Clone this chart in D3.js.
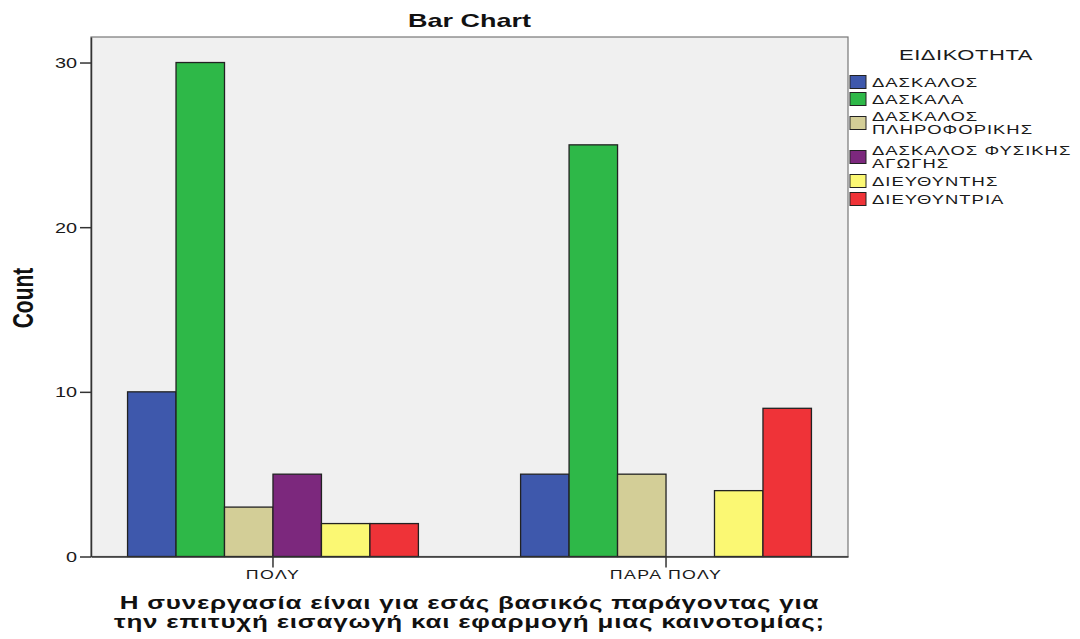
<!DOCTYPE html>
<html>
<head>
<meta charset="utf-8">
<script src="https://cdn.jsdelivr.net/npm/d3@7"></script>
<style>
  body { margin: 0; background: #fff; }
  svg { display: block; font-family: "Liberation Sans", Arial, sans-serif; }
</style>
</head>
<body>
<svg id="chart" width="1080" height="639"></svg>
<script>
const groups = ["ΠΟΛΥ", "ΠΑΡΑ ΠΟΛΥ"];
const seriesNames = ["ΔΑΣΚΑΛΟΣ", "ΔΑΣΚΑΛΑ", "ΔΑΣΚΑΛΟΣ ΠΛΗΡΟΦΟΡΙΚΗΣ", "ΔΑΣΚΑΛΟΣ ΦΥΣΙΚΗΣ ΑΓΩΓΗΣ", "ΔΙΕΥΘΥΝΤΗΣ", "ΔΙΕΥΘΥΝΤΡΙΑ"];
const legendLines = [["ΔΑΣΚΑΛΟΣ"], ["ΔΑΣΚΑΛΑ"], ["ΔΑΣΚΑΛΟΣ", "ΠΛΗΡΟΦΟΡΙΚΗΣ"], ["ΔΑΣΚΑΛΟΣ ΦΥΣΙΚΗΣ", "ΑΓΩΓΗΣ"], ["ΔΙΕΥΘΥΝΤΗΣ"], ["ΔΙΕΥΘΥΝΤΡΙΑ"]];
const polyValues = [10, 30, 3, 5, 2, 2];
const paraPolyValues = [5, 25, 5, 0, 4, 9];
const colors = ["#3E58AC", "#2EB848", "#D3CE97", "#7C287D", "#FBF873", "#EF3338"];
const yTicks = [0, 10, 20, 30];
const xTitleLines = ["Η συνεργασία είναι για εσάς βασικός παράγοντας για", "την επιτυχή εισαγωγή και εφαρμογή μιας καινοτομίας;"];

const svg = d3.select("#chart");
const plot = { left: 91, right: 848, top: 37, bottom: 556.5 };
const SX = 1.42; // the original output is stretched horizontally

const valuesByGroup = [polyValues, paraPolyValues];

const x0 = d3.scaleBand()
    .domain(groups)
    .range([plot.left, plot.right])
    .paddingInner(0.26)
    .paddingOuter(0.093);

const x1 = d3.scaleBand()
    .domain(seriesNames)
    .range([0, x0.bandwidth()])
    .padding(0);

const y = d3.scaleLinear()
    .domain([0, 31.55])
    .range([plot.bottom, plot.top]);

// stretched text helper
function stext(parent, x, yy, str, opts = {}) {
    const t = parent.append("text")
        .attr("transform", `translate(${x},${yy}) scale(${SX},1)` + (opts.rotate ? ` rotate(${opts.rotate})` : ""))
        .attr("text-anchor", opts.anchor || "start")
        .attr("font-size", opts.size || 13)
        .attr("font-weight", opts.weight || "normal")
        .attr("fill", opts.fill || "#1a1a1a")
        .text(str);
    if (opts.spacing) t.style("letter-spacing", opts.spacing + "px");
    return t;
}

// plot background
svg.append("rect")
    .attr("x", plot.left)
    .attr("y", plot.top)
    .attr("width", plot.right - plot.left)
    .attr("height", plot.bottom - plot.top)
    .attr("fill", "#F0F0F0")
    .attr("stroke", "#777")
    .attr("stroke-width", 1.2);

// bars
groups.forEach((g, gi) => {
    const gEl = svg.append("g").attr("transform", `translate(${x0(g)},0)`);
    gEl.selectAll("rect")
        .data(seriesNames.map((s, i) => ({ s, v: valuesByGroup[gi][i], c: colors[i] })).filter(d => d.v > 0))
        .enter()
        .append("rect")
        .attr("x", d => x1(d.s))
        .attr("y", d => y(d.v))
        .attr("width", x1.bandwidth())
        .attr("height", d => y(0) - y(d.v))
        .attr("fill", d => d.c)
        .attr("stroke", "#222")
        .attr("stroke-width", 1.3);
});

// y axis
const yAxis = svg.append("g")
    .attr("transform", `translate(${plot.left},0)`)
    .call(d3.axisLeft(y).tickValues(yTicks).tickSize(11).tickSizeOuter(0));
yAxis.select(".domain").attr("stroke", "#333").attr("stroke-width", 1.5);
yAxis.selectAll(".tick line").attr("stroke", "#333").attr("stroke-width", 1.5);
yAxis.selectAll(".tick text").remove();
yAxis.selectAll(".tick").each(function(d) {
    stext(d3.select(this), -14, 5, d, { anchor: "end", size: 14 });
});

// x axis
const xAxis = svg.append("g")
    .attr("transform", `translate(0,${plot.bottom})`)
    .call(d3.axisBottom(x0).tickSize(11).tickSizeOuter(0));
xAxis.select(".domain").attr("stroke", "#333").attr("stroke-width", 1.5);
xAxis.selectAll(".tick line").attr("stroke", "#333").attr("stroke-width", 1.5);
xAxis.selectAll(".tick text").remove();
xAxis.selectAll(".tick").each(function(d) {
    stext(d3.select(this), 0, 22, d, { anchor: "middle", size: 12.5, spacing: 1 });
});

// title
stext(svg, (plot.left + plot.right) / 2, 27, "Bar Chart", { anchor: "middle", size: 19, weight: "bold", fill: "#111" });

// y title
stext(svg, 33, 298, "Count", { anchor: "middle", size: 21, weight: "bold", fill: "#111", rotate: -90 });

// x title
xTitleLines.forEach((line, i) => {
    stext(svg, (plot.left + plot.right) / 2, 609 + i * 19, line, { anchor: "middle", size: 18.3, weight: "bold", fill: "#111", spacing: 0.55 });
});

// legend
const legend = svg.append("g");
stext(legend, 966, 60, "ΕΙΔΙΚΟΤΗΤΑ", { anchor: "middle", size: 15.5, spacing: 0.4 });

const itemY = [82, 99, 123, 157, 181, 199];
seriesNames.forEach((s, i) => {
    const cy = itemY[i];
    legend.append("rect")
        .attr("x", 850)
        .attr("y", cy - 6.5)
        .attr("width", 16)
        .attr("height", 13)
        .attr("fill", colors[i])
        .attr("stroke", "#222")
        .attr("stroke-width", 1);
    const lines = legendLines[i];
    lines.forEach((line, j) => {
        stext(legend, 872, cy + 4.5 + (j - (lines.length - 1) / 2) * 13, line, { size: 13, spacing: 0.7 });
    });
});
</script>
</body>
</html>
